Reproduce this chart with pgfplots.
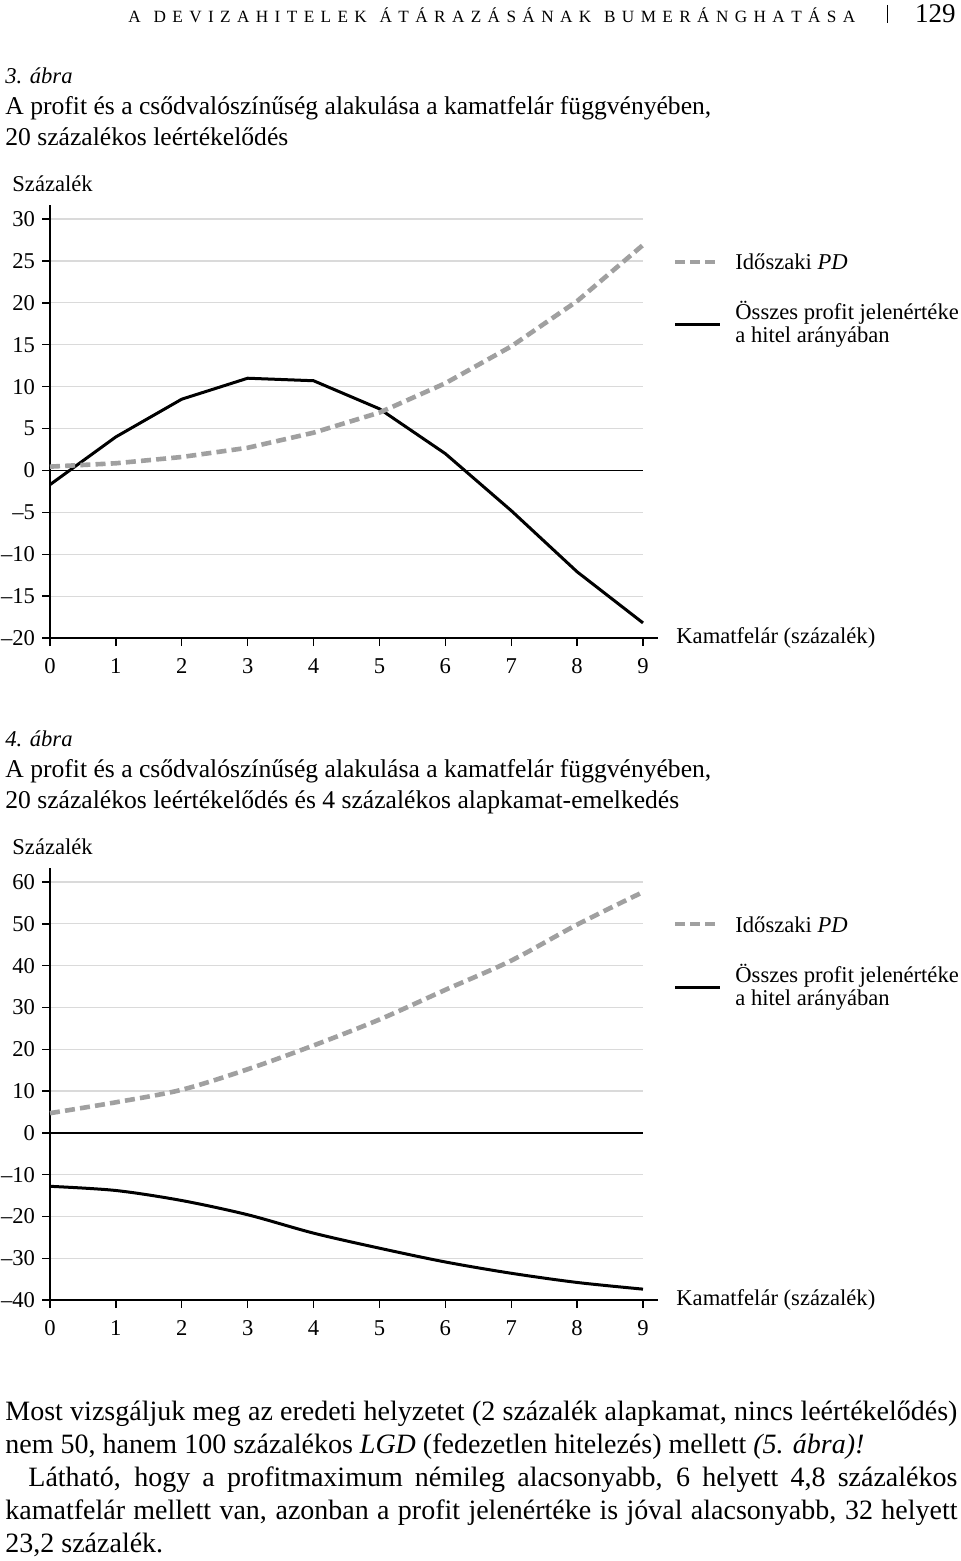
\documentclass[border=0pt]{standalone}
\usepackage{pgfplots}
\pgfplotsset{compat=1.18}
\usepackage{fontspec}
\setmainfont{Liberation Serif}
\definecolor{pdgray}{RGB}{160,160,160}
\definecolor{gridgray}{RGB}{218,218,218}
\newcommand{\cf}{\fontsize{11.3}{13}\selectfont}
\newcommand{\tf}{\fontsize{12.8}{15}\selectfont}
\newcommand{\bodyf}{\fontsize{14}{16}\selectfont}
\newcommand{\hdf}{\fontsize{8.6}{10}\selectfont}
\pgfplotsset{mychart/.style={
  scale only axis, width=296.5pt, xmin=0, xmax=9,
  axis lines=left, axis line style={-, black, line width=0.7pt},
  x axis line style={shorten >=-7.5pt},
  y axis line style={shorten >=-7pt},
  tick align=outside, major tick length=4pt,
  tick style={black, line width=0.7pt},
  xtick={0,1,2,3,4,5,6,7,8,9},
  xticklabels={0,1,2,3,4,5,6,7,8,9},
  xticklabel style={anchor=north, text height=7.6pt, text depth=0pt, yshift=-2.5pt},
  ymajorgrids, grid style={gridgray, line width=0.6pt},
  tick label style={font=\cf},
  extra y ticks={0}, extra y tick labels={},
  extra y tick style={grid=major, major grid style={black, line width=0.8pt}},
  clip=false,
}}
\begin{document}
\begin{tikzpicture}
\useasboundingbox (0pt,0pt) rectangle (480pt,-780.5pt);
% chart 1
\begin{axis}[mychart, at={(25pt,-319pt)}, anchor=south west,
  height=209.5pt, ymin=-20, ymax=30,
  ytick={-20,-15,...,30},
  yticklabels={–20,–15,–10,–5,0,5,10,15,20,25,30}]
\addplot[black, line width=1.5pt] coordinates {
 (0,-1.7)(1,4.0)(2,8.5)(3,11.0)(4,10.7)(5,7.35)(6,2.0)(7,-4.8)(8,-12.1)(9,-18.2)};
\addplot[pdgray, line width=2.3pt, dash pattern=on 5pt off 2.6pt] coordinates {
 (0,0.45)(1,0.85)(2,1.6)(3,2.7)(4,4.5)(5,6.9)(6,10.4)(7,14.8)(8,20.2)(9,26.9)};
\end{axis}
% chart 2
\begin{axis}[mychart, at={(25pt,-650pt)}, anchor=south west,
  height=209pt, ymin=-40, ymax=60,
  ytick={-40,-30,...,60},
  yticklabels={–40,–30,–20,–10,0,10,20,30,40,50,60}]
\addplot[black, line width=1.5pt, smooth] coordinates {
 (0,-12.8)(1,-13.8)(2,-16.2)(3,-19.6)(4,-24.0)(5,-27.6)(6,-30.9)(7,-33.6)(8,-35.8)(9,-37.4)};
\addplot[pdgray, line width=2.3pt, dash pattern=on 5pt off 2.6pt, smooth] coordinates {
 (0,4.7)(1,7.3)(2,10.3)(3,15.2)(4,20.9)(5,27.1)(6,34.2)(7,41.2)(8,49.8)(9,57.6)};
\end{axis}
\begin{scope}[x=0.5pt, y=-0.5pt, every node/.style={inner sep=0pt, anchor=base west}]
% header
\node at (128,22.5) {\hdf\makebox[363.5pt][s]{A\ \ D\ E\ V\ I\ Z\ A\ H\ I\ T\ E\ L\ E\ K\ \ Á\ T\ Á\ R\ A\ Z\ Á\ S\ Á\ N\ A\ K\ \ B\ U\ M\ E\ R\ Á\ N\ G\ H\ A\ T\ Á\ S\ A}};
\draw[line width=0.5pt] (887,5) -- (887,23);
\node[anchor=base east] at (956,22.5) {\fontsize{13.5}{15}\selectfont 129};
% figure 3 texts
\node at (5,84) {\cf\itshape 3. ábra};
\node at (5,115) {\tf A profit és a csődvalószínűség alakulása a kamatfelár függvényében,};
\node at (5,146) {\tf 20 százalékos leértékelődés};
\node at (12,192) {\cf Százalék};
\draw[pdgray, line width=2.3pt, dash pattern=on 5pt off 2.6pt] (675,262) -- (720,262);
\node at (735,270) {\cf Időszaki \textit{PD}};
\draw[black, line width=1.5pt] (675,325) -- (720,325);
\node at (735,320) {\cf Összes profit jelenértéke};
\node at (735,343) {\cf a hitel arányában};
\node at (676,643) {\cf Kamatfelár (százalék)};
% figure 4 texts
\node at (5,746) {\cf\itshape 4. ábra};
\node at (5,777) {\tf A profit és a csődvalószínűség alakulása a kamatfelár függvényében,};
\node at (5,808) {\tf 20 százalékos leértékelődés és 4 százalékos alapkamat-emelkedés};
\node at (12,854) {\cf Százalék};
\draw[pdgray, line width=2.3pt, dash pattern=on 5pt off 2.6pt] (675,924) -- (720,924);
\node at (735,932) {\cf Időszaki \textit{PD}};
\draw[black, line width=1.5pt] (675,987) -- (720,987);
\node at (735,982) {\cf Összes profit jelenértéke};
\node at (735,1005) {\cf a hitel arányában};
\node at (676,1305) {\cf Kamatfelár (százalék)};
% body text
\node at (5,1420) {\bodyf\makebox[476pt][s]{Most vizsgáljuk meg az eredeti helyzetet (2 százalék alapkamat, nincs leértékelődés)}};
\node at (5,1453) {\bodyf nem 50, hanem 100 százalékos \textit{LGD} (fedezetlen hitelezés) mellett \textit{(5. ábra)!}};
\node at (28,1486) {\bodyf\makebox[464.5pt][s]{Látható, hogy a profitmaximum némileg alacsonyabb, 6 helyett 4,8 százalékos}};
\node at (5,1519) {\bodyf\makebox[476pt][s]{kamatfelár mellett van, azonban a profit jelenértéke is jóval alacsonyabb, 32 helyett}};
\node at (5,1552) {\bodyf 23,2 százalék.};
\end{scope}
\end{tikzpicture}
\end{document}
